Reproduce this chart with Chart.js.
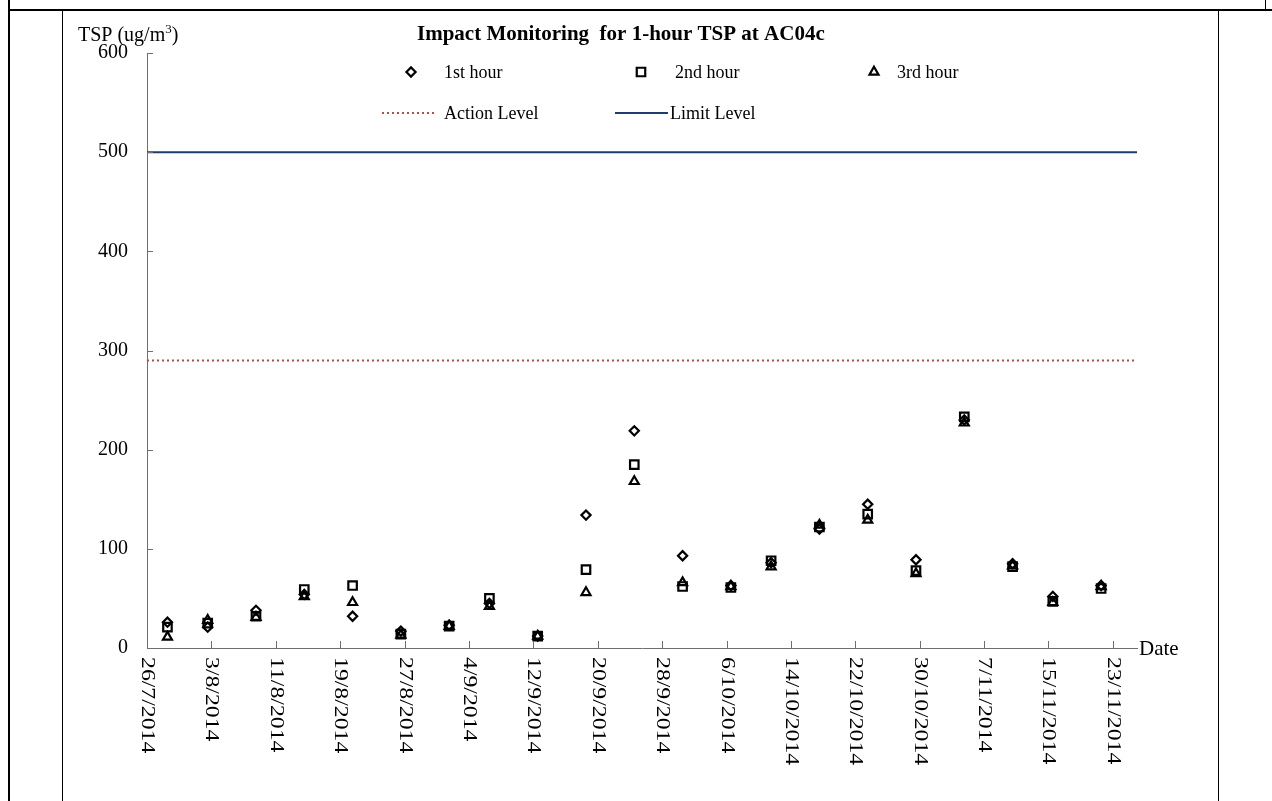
<!DOCTYPE html>
<html>
<head>
<meta charset="utf-8">
<script src="https://cdn.jsdelivr.net/npm/chart.js"></script>
<style>
  html, body { margin: 0; padding: 0; background: #fff; }
  #wrap { position: relative; width: 1272px; height: 801px; overflow: hidden; }
  #chartBox { position: absolute; left: 0; top: 0; width: 1272px; height: 801px; }
  .rule { position: absolute; background: #000; }
</style>
</head>
<body>
<div id="wrap">
  <div id="chartBox"><canvas id="tspChart"></canvas></div>
  <div class="rule" style="left:8px; top:9px; width:1264px; height:2px;"></div>
  <div class="rule" style="left:8px; top:0; width:2px; height:801px;"></div>
  <div class="rule" style="left:62px; top:10px; width:1px; height:791px;"></div>
  <div class="rule" style="left:1218px; top:10px; width:1px; height:791px;"></div>
  <div class="rule" style="left:1265px; top:0; width:1px; height:11px;"></div>
</div>
<script>
// --- Data ---
const startDate = '2014-07-26';   // axis origin
const endDate = '2014-11-26';     // axis end
const sampleHour = 13;            // samples plotted at roughly 13:00 on each date

const sampleDates = ['2014-07-28', '2014-08-02', '2014-08-08', '2014-08-14', '2014-08-20', '2014-08-26',
  '2014-09-01', '2014-09-06', '2014-09-12', '2014-09-18', '2014-09-24', '2014-09-30',
  '2014-10-06', '2014-10-11', '2014-10-17', '2014-10-23', '2014-10-29',
  '2014-11-04', '2014-11-10', '2014-11-15', '2014-11-21'];

const hour1 = [26, 21, 38, 54, 32, 17, 23, 45, 12, 134, 219, 93, 63, 86, 120, 145, 89, 230, 85, 52, 63];
const hour2 = [21, 25, 32, 59, 63, 14, 22, 50, 12, 79, 185, 62, 61, 88, 122, 135, 78, 233, 82, 47, 60];
const hour3 = [11, 28, 31, 52, 46, 13, 22, 42, 12, 56, 168, 66, 62, 82, 124, 129, 75, 227, 83, 46, 62];

const actionLevel = 290;
const limitLevel = 500;

const xTickLabels = ['26/7/2014', '3/8/2014', '11/8/2014', '19/8/2014', '27/8/2014', '4/9/2014',
  '12/9/2014', '20/9/2014', '28/9/2014', '6/10/2014', '14/10/2014', '22/10/2014',
  '30/10/2014', '7/11/2014', '15/11/2014', '23/11/2014'];
const yTicks = [0, 100, 200, 300, 400, 500, 600];

// --- Helpers ---
const DAY = 86400000;
function utc(iso, hour) {
  const p = iso.split('-').map(Number);
  return Date.UTC(p[0], p[1] - 1, p[2], hour || 0);
}
function dayOffset(iso, hour) {
  return (utc(iso, hour) - utc(startDate)) / DAY;
}
function labelOffset(label) {
  const p = label.split('/').map(Number);
  return (Date.UTC(p[2], p[1] - 1, p[0]) - utc(startDate)) / DAY;
}
function pts(values) {
  return values.map((v, i) => ({ x: dayOffset(sampleDates[i], sampleHour), y: v }));
}

const xMax = dayOffset(endDate);
const serif = "'Liberation Serif', 'Times New Roman', serif";
const axisColor = '#6e6e6e';
const actionColor = '#b84a47';
const limitColor = '#1f3d6b';

const markerStyles = [
  { pointStyle: 'rectRot', radius: 4.6, borderWidth: 2.2 },
  { pointStyle: 'rect', radius: 6, borderWidth: 2.2 },
  { pointStyle: 'triangle', radius: 5.2, borderWidth: 2.2 }
];

function drawMarker(ctx, style, x, y) {
  ctx.save();
  ctx.fillStyle = 'rgba(0,0,0,0)';
  ctx.strokeStyle = '#000';
  ctx.lineWidth = style.borderWidth;
  Chart.helpers.drawPoint(ctx, { pointStyle: style.pointStyle, radius: style.radius, borderWidth: style.borderWidth, rotation: 0 }, x, y);
  ctx.restore();
}

// --- Custom drawing: title, legend, axis ticks and rotated date labels ---
const decor = {
  id: 'decor',
  afterDraw(chart) {
    const { ctx, scales: { x, y } } = chart;
    ctx.save();

    // inside tick marks
    ctx.strokeStyle = axisColor;
    ctx.lineWidth = 1;
    xTickLabels.forEach(l => {
      const px = Math.round(x.getPixelForValue(labelOffset(l))) + 0.5;
      ctx.beginPath();
      ctx.moveTo(px, y.bottom);
      ctx.lineTo(px, y.bottom - 7);
      ctx.stroke();
    });
    yTicks.forEach(v => {
      const py = Math.round(y.getPixelForValue(v)) + 0.5;
      ctx.beginPath();
      ctx.moveTo(x.left, py);
      ctx.lineTo(x.left + 6, py);
      ctx.stroke();
    });

    // date labels, rotated clockwise
    ctx.fillStyle = '#000';
    ctx.font = '19px ' + serif;
    ctx.textAlign = 'left';
    ctx.textBaseline = 'middle';
    xTickLabels.forEach(l => {
      const px = x.getPixelForValue(labelOffset(l));
      ctx.save();
      ctx.translate(px, y.bottom + 9);
      ctx.rotate(Math.PI / 2);
      ctx.scale(1.25, 1);
      ctx.fillText(l, 0, 0);
      ctx.restore();
    });

    // axis titles
    ctx.textBaseline = 'alphabetic';
    ctx.font = '21px ' + serif;
    ctx.fillText('Date', x.right + 2, y.bottom + 7);

    ctx.font = '20px ' + serif;
    let tx = 78;
    const base = 41;
    ctx.fillText('TSP (ug/m', tx, base);
    tx += ctx.measureText('TSP (ug/m').width;
    ctx.font = '13px ' + serif;
    ctx.fillText('3', tx, base - 8);
    tx += ctx.measureText('3').width;
    ctx.font = '20px ' + serif;
    ctx.fillText(')', tx, base);

    // chart title
    ctx.font = 'bold 21px ' + serif;
    ctx.fillText('Impact Monitoring  for 1-hour TSP at AC04c', 417, 40);

    // legend
    ctx.font = '18px ' + serif;
    ctx.textBaseline = 'middle';
    const names = ['1st hour', '2nd hour', '3rd hour'];
    const mx = [411, 641, 874];
    const tx1 = [444, 675, 897];
    names.forEach((n, i) => {
      drawMarker(ctx, markerStyles[i], mx[i], 72);
      ctx.fillStyle = '#000';
      ctx.fillText(n, tx1[i], 73);
    });

    ctx.lineWidth = 2;
    ctx.strokeStyle = actionColor;
    ctx.setLineDash([2, 3]);
    ctx.beginPath();
    ctx.moveTo(382, 113);
    ctx.lineTo(435, 113);
    ctx.stroke();
    ctx.setLineDash([]);
    ctx.strokeStyle = limitColor;
    ctx.beginPath();
    ctx.moveTo(615, 113);
    ctx.lineTo(668, 113);
    ctx.stroke();
    ctx.fillStyle = '#000';
    ctx.fillText('Action Level', 444, 114);
    ctx.fillText('Limit Level', 670, 114);

    ctx.restore();
  }
};

const levelLine = (label, value, color, dash) => ({
  type: 'line',
  label: label,
  data: [{ x: 0, y: value }, { x: xMax, y: value }],
  borderColor: color,
  borderWidth: 2,
  borderDash: dash,
  pointRadius: 0,
  fill: false
});

const hourSet = (label, values, style) => ({
  type: 'scatter',
  label: label,
  data: pts(values),
  pointStyle: style.pointStyle,
  pointRadius: style.radius,
  pointBorderWidth: style.borderWidth,
  pointBorderColor: '#000',
  pointBackgroundColor: 'rgba(0,0,0,0)'
});

document.addEventListener('DOMContentLoaded', function () {
  const ctx = document.getElementById('tspChart');
  new Chart(ctx, {
    type: 'scatter',
    data: {
      datasets: [
        hourSet('1st hour', hour1, markerStyles[0]),
        hourSet('2nd hour', hour2, markerStyles[1]),
        hourSet('3rd hour', hour3, markerStyles[2]),
        levelLine('Action Level', actionLevel, actionColor, [2, 3]),
        levelLine('Limit Level', limitLevel, limitColor, [])
      ]
    },
    options: {
      responsive: true,
      maintainAspectRatio: false,
      animation: false,
      layout: { padding: { left: 87, top: 53, right: 135, bottom: 153 } },
      plugins: { legend: { display: false }, title: { display: false }, tooltip: { enabled: false } },
      scales: {
        x: {
          type: 'linear',
          min: 0,
          max: xMax,
          ticks: { display: false },
          grid: { display: false, drawTicks: false },
          border: { display: true, color: axisColor, width: 1 },
          afterFit: s => { s.height = 0; }
        },
        y: {
          min: 0,
          max: 600,
          ticks: { stepSize: 100, padding: 19, color: '#000', font: { family: serif, size: 20 } },
          grid: { display: false, drawTicks: false },
          border: { display: true, color: axisColor, width: 1 },
          afterFit: s => { s.width = 60; }
        }
      }
    },
    plugins: [decor]
  });
});
</script>
</body>
</html>
